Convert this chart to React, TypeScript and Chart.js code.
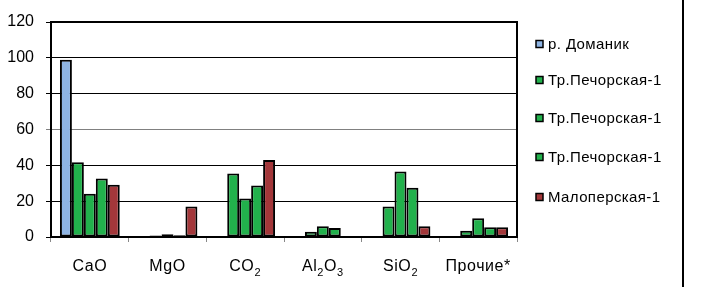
import React, { useEffect, useRef } from "react";
import { Chart, registerables } from "chart.js";

Chart.register(...registerables);

const categories = ["CaO", "MgO", "CO2", "Al2O3", "SiO2", "Прочие*"];
// label pieces: [text, isSubscript]
const labelParts: [string, boolean][][] = [
  [["CaO", false]],
  [["MgO", false]],
  [["CO", false], ["2", true]],
  [["Al", false], ["2", true], ["O", false], ["3", true]],
  [["SiO", false], ["2", true]],
  [["Прочие*", false]],
];
const seriesNames = ["р. Доманик", "Тр.Печорская-1", "Тр.Печорская-1", "Тр.Печорская-1", "Малоперская-1"];
const seriesColors = ["#8EB4E3", "#22B14C", "#22B14C", "#22B14C", "#A3373A"];
const domanik = [99, 0.3, 0.3, 0.4, 0.5, 0.4];
const pechorskaya1a = [41.7, 0.9, 35.5, 3, 17, 3.5];
const pechorskaya1b = [24.2, 1.6, 21.5, 6, 36.5, 10.5];
const pechorskaya1c = [32.6, 1.0, 28.7, 5, 27.5, 5.5];
const maloperskaya = [29.2, 17, 43, 0.5, 6, 5.5];
const seriesValues = [domanik, pechorskaya1a, pechorskaya1b, pechorskaya1c, maloperskaya];
const yTicks = [0, 20, 40, 60, 80, 100, 120];

const FONT = '"Liberation Sans", Arial, sans-serif';

const decorPlugin = {
  id: "decor",
  afterDraw(chart: any) {
    const ctx = chart.ctx;
    const { left, right, top, bottom } = chart.chartArea;
    ctx.save();
    ctx.fillStyle = "#000";
    // plot frame top/right
    ctx.fillRect(left - 1, top - 1, right - left + 2, 2);
    ctx.fillRect(right - 1, top - 1, 2, bottom - top + 2);
    // outer vertical line
    ctx.fillRect(682, 0, 2, chart.height);

    // x labels with subscripts
    const xs = chart.scales.x;
    ctx.fillStyle = "#000";
    ctx.textBaseline = "alphabetic";
    ctx.textAlign = "left";
    (ctx as any).letterSpacing = "0.6px";
    labelParts.forEach((parts, i) => {
      let w = 0;
      parts.forEach(([t, sub]) => {
        ctx.font = (sub ? "11px " : "16px ") + FONT;
        w += ctx.measureText(t).width;
      });
      let x = xs.getPixelForValue(i) - w / 2;
      const base = 271;
      parts.forEach(([t, sub]) => {
        ctx.font = (sub ? "11px " : "16px ") + FONT;
        ctx.fillText(t, x, sub ? base + 5 : base);
        x += ctx.measureText(t).width;
      });
    });

    // legend
    ctx.font = "15px " + FONT;
    (ctx as any).letterSpacing = "0.4px";
    ctx.textBaseline = "middle";
    const rowsY = [44, 80, 118, 157, 197];
    seriesNames.forEach((name, i) => {
      const y = rowsY[i];
      ctx.fillStyle = seriesColors[i];
      ctx.fillRect(536, y - 3.5, 7, 7);
      ctx.lineWidth = 1.5;
      ctx.strokeStyle = "#000";
      ctx.strokeRect(536, y - 3.5, 7, 7);
      ctx.fillStyle = "#000";
      ctx.fillText(name, 548, y + 1);
    });
    (ctx as any).letterSpacing = "0px";
    ctx.restore();
  },
};

export default function App() {
  const ref = useRef<HTMLCanvasElement | null>(null);
  useEffect(() => {
    document.body.style.margin = "0";
    if (!ref.current) return;
    const chart = new Chart(ref.current, {
      type: "bar",
      data: {
        labels: categories,
        datasets: seriesValues.map((vals, i) => ({
          label: seriesNames[i],
          data: vals,
          backgroundColor: seriesColors[i],
          borderColor: "#000",
          borderWidth: 2,
          borderSkipped: false,
          barPercentage: 1,
          categoryPercentage: 0.77,
        })),
      },
      options: {
        animation: false,
        responsive: false,
        maintainAspectRatio: false,
        layout: { padding: { top: 22, right: 199, left: 0, bottom: 0 } },
        plugins: { legend: { display: false }, tooltip: { enabled: false } },
        scales: {
          x: {
            grid: { offset: true, drawOnChartArea: false, drawTicks: true, tickLength: 5, color: "#888", lineWidth: 1 },
            border: { display: true, color: "#000", width: 2 },
            ticks: { color: "rgba(0,0,0,0)", font: { size: 16, family: FONT } },
            afterFit: (s: any) => { s.height = 50; },
          },
          y: {
            min: 0,
            max: 120,
            afterBuildTicks: (s: any) => { s.ticks = yTicks.map((v) => ({ value: v })); },
            ticks: { color: "#000", font: { size: 16, family: FONT }, padding: 12 },
            grid: {
              color: (c: any) => (c.tick && c.tick.value === 60 ? "#808080" : "#000"),
              lineWidth: 1,
              tickLength: 5,
            },
            border: { display: true, color: "#000", width: 2 },
            afterFit: (s: any) => { s.width = 51; },
          },
          yRight: {
            position: "right",
            min: 0,
            max: 120,
            ticks: { display: false },
            grid: { drawOnChartArea: false, drawTicks: false },
            border: { display: true, color: "#000", width: 2 },
            afterFit: (s: any) => { s.width = 0; },
          },
        },
      },
      plugins: [decorPlugin],
    });
    return () => chart.destroy();
  }, []);
  return <canvas ref={ref} width={716} height={287} style={{ display: "block" }} />;
}
